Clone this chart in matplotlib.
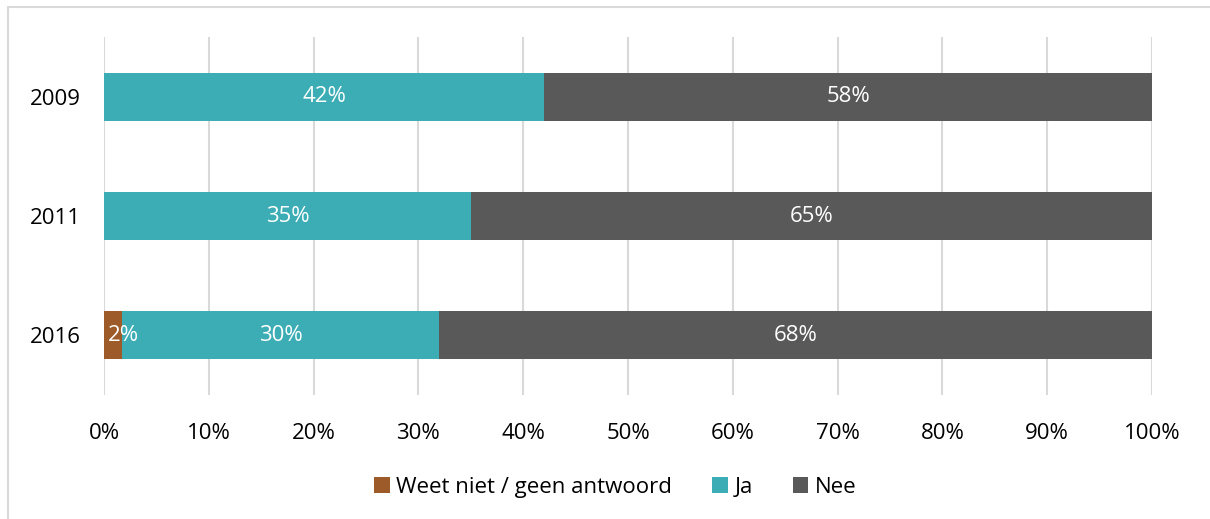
import matplotlib
matplotlib.use("Agg")
import matplotlib.pyplot as plt
from matplotlib.patches import Rectangle

plt.rcParams['font.family'] = ['Open Sans', 'DejaVu Sans']

years = ['2009', '2011', '2016']
weet_niet = [0.0, 0.0, 1.7]
ja = [42.0, 35.0, 30.3]
nee = [58.0, 65.0, 68.0]
series_names = ['Weet niet / geen antwoord', 'Ja', 'Nee']
series_colors = ['#9C5B28', '#3CADB5', '#595959']
x_ticks = [0, 10, 20, 30, 40, 50, 60, 70, 80, 90, 100]

fig = plt.figure(figsize=(12.10, 5.19), dpi=100)
ax = fig.add_axes([104 / 1210, 1 - 395 / 519, 1048 / 1210, 358 / 519])

# outer frame (chart area border)
fig.patches.append(Rectangle((8 / 1210, -0.1), 1.2, 1 - 7 / 519 + 0.1,
                             transform=fig.transFigure, fill=False,
                             edgecolor='#D9D9D9', lw=1.5))

ypos = list(range(len(years)))
left = [0.0] * len(years)
for vals, name, col in zip([weet_niet, ja, nee], series_names, series_colors):
    bars = ax.barh(ypos, vals, left=left, height=0.4, color=col, label=name, zorder=3)
    for b, v, l in zip(bars, vals, left):
        if v > 0:
            ax.text(l + v / 2 if v > 5 else l + v / 2 + 1.0, b.get_y() + b.get_height() / 2,
                    f"{round(v)}%", ha='center', va='center', color='white',
                    fontsize=16, zorder=4)
    left = [a + b for a, b in zip(left, vals)]

ax.set_xlim(0, 100)
ax.set_ylim(2.5, -0.5)
ax.set_yticks(ypos)
ax.set_yticklabels(years, fontsize=16)
ax.set_xticks(x_ticks)
ax.set_xticklabels([f"{t}%" for t in x_ticks], fontsize=16)
ax.tick_params(length=0)
ax.tick_params(axis='x', pad=20)
ax.tick_params(axis='y', pad=17)
ax.grid(axis='x', color='#D9D9D9', lw=1.5, zorder=0)
for s in ax.spines.values():
    s.set_visible(False)

ax.legend(loc='center', bbox_to_anchor=(0.488, -0.257), ncol=3, frameon=False,
          fontsize=16, handlelength=0.7, handleheight=0.7, handletextpad=0.3,
          columnspacing=1.8)

fig.savefig('out.png', dpi=100)
